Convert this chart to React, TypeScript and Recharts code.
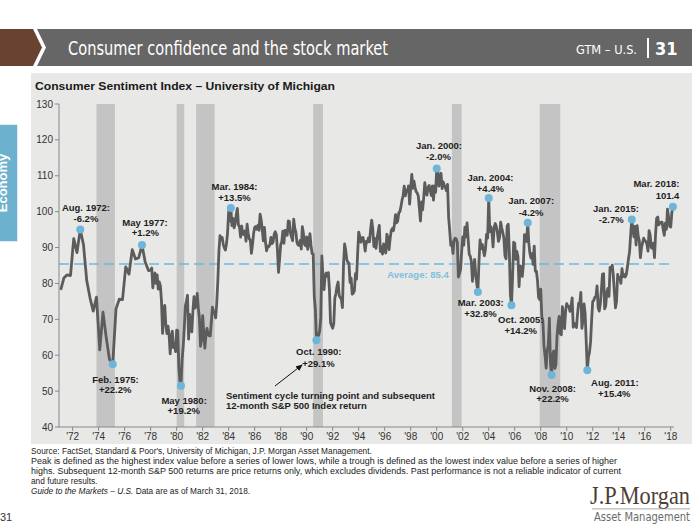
import React from "react";
import { ComposedChart, Line, XAxis, YAxis, ReferenceArea, ReferenceLine, ReferenceDot } from "recharts";

// Survey was quarterly (Feb, May, Aug, Nov) until the end of 1977
const quarterlyStartYear = 1971;
const quarterlyMonths = [2, 5, 8, 11];
const quarterlyValues = [
  78.2, 81.6, 82.4, 82.2,
  92.5, 88.6, 95.0, 90.8,
  80.8, 76.0, 72.3, 76.2,
  61.5, 72.0, 64.9, 58.8,
  57.5, 72.9, 75.6, 75.5,
  84.6, 82.6, 89.4, 86.8,
  87.2, 90.7, 85.9, 83.6,
];

// Monthly readings, Jan 1978 - Mar 2018
const monthlyStartYear = 1978;
const monthlyValues = [
  83.7, 84.3, 78.8, 81.6, 82.9, 80.0, 82.4, 78.4, 80.4, 79.3, 75.0, 66.1,
  72.1, 73.9, 68.4, 66.0, 68.1, 65.8, 60.4, 64.5, 66.7, 62.1, 63.3, 61.0,
  67.0, 66.9, 56.5, 52.7, 51.5, 58.7, 62.3, 67.3, 73.7, 75.0, 76.7, 64.5,
  71.4, 66.9, 66.5, 72.4, 76.3, 73.1, 74.1, 77.2, 73.1, 70.3, 62.5, 64.3,
  71.0, 66.5, 62.0, 65.5, 67.5, 65.7, 65.4, 65.4, 69.3, 73.4, 72.1, 71.9,
  70.4, 74.6, 80.8, 89.1, 93.3, 92.2, 92.8, 90.9, 89.9, 89.3, 91.1, 94.2,
  100.1, 97.4, 101.0, 96.1, 98.1, 95.5, 96.6, 99.1, 100.9, 96.3, 95.7, 92.9,
  96.0, 93.7, 93.7, 94.6, 91.8, 96.5, 94.0, 92.4, 92.1, 88.4, 90.9, 93.9,
  95.6, 95.9, 95.1, 96.2, 94.8, 99.3, 97.7, 94.9, 91.9, 95.6, 91.4, 89.1,
  90.4, 90.2, 90.8, 92.8, 91.1, 91.5, 93.7, 94.4, 93.6, 89.3, 83.1, 86.8,
  90.8, 91.6, 94.6, 91.2, 94.8, 94.7, 93.4, 97.4, 97.3, 94.1, 93.0, 91.9,
  97.9, 95.4, 94.3, 91.5, 90.7, 90.6, 92.0, 89.6, 95.8, 93.9, 90.9, 90.5,
  93.0, 89.5, 91.3, 93.9, 90.6, 88.3, 88.2, 76.4, 72.8, 64.2, 66.0, 65.5,
  66.8, 70.4, 87.7, 81.8, 78.3, 82.1, 82.9, 82.0, 83.0, 78.3, 69.1, 68.2,
  67.5, 68.8, 76.0, 77.2, 79.2, 80.4, 76.6, 76.1, 75.6, 73.3, 85.3, 91.0,
  89.3, 86.6, 85.9, 85.6, 80.3, 81.5, 77.0, 77.3, 77.9, 82.7, 81.2, 88.2,
  94.3, 93.2, 91.5, 92.6, 92.8, 91.2, 89.0, 91.7, 91.5, 92.7, 91.6, 95.1,
  97.6, 95.1, 90.3, 92.5, 89.8, 92.7, 94.4, 96.2, 88.9, 90.2, 88.2, 91.0,
  89.3, 88.5, 93.7, 92.7, 89.4, 92.4, 94.7, 95.3, 94.7, 96.5, 99.2, 96.9,
  97.4, 99.7, 100.0, 101.4, 103.2, 104.5, 107.1, 104.4, 106.0, 105.6, 107.2, 102.1,
  106.6, 110.4, 106.5, 108.5, 106.8, 105.6, 105.2, 104.4, 100.9, 97.4, 102.7, 100.5,
  103.9, 108.1, 105.7, 104.6, 106.8, 107.3, 106.0, 104.5, 107.2, 103.2, 107.2, 105.4,
  112.0, 111.3, 107.1, 109.2, 110.7, 106.4, 108.3, 107.3, 106.8, 105.8, 107.6, 98.4,
  94.7, 90.6, 91.5, 88.4, 92.0, 92.6, 92.4, 91.5, 81.8, 82.7, 83.9, 88.8,
  93.0, 90.7, 95.7, 93.0, 96.9, 92.4, 88.1, 87.6, 86.1, 80.6, 84.2, 86.7,
  82.4, 79.9, 77.6, 86.0, 92.1, 89.7, 90.9, 89.3, 87.7, 89.6, 93.7, 92.6,
  103.8, 94.4, 95.8, 94.2, 90.2, 95.6, 96.7, 95.9, 94.2, 91.7, 92.8, 97.1,
  95.5, 94.1, 92.6, 87.7, 86.9, 96.0, 96.5, 89.1, 76.9, 73.9, 81.6, 91.5,
  91.2, 86.7, 88.9, 87.4, 79.1, 84.9, 84.7, 82.0, 85.4, 93.6, 92.1, 91.7,
  96.9, 91.3, 88.4, 87.1, 88.3, 85.3, 90.4, 83.4, 83.4, 80.9, 76.1, 75.5,
  78.4, 70.8, 69.5, 62.6, 59.8, 56.4, 61.2, 63.0, 70.3, 57.6, 54.5, 60.1,
  61.2, 56.3, 57.3, 65.1, 68.7, 70.8, 66.0, 65.7, 73.5, 70.6, 67.4, 72.5,
  74.4, 73.6, 73.6, 72.2, 73.6, 76.0, 67.8, 68.9, 68.2, 67.7, 71.6, 74.5,
  74.2, 77.5, 67.5, 69.8, 74.3, 71.5, 63.7, 55.8, 59.5, 60.8, 63.7, 69.9,
  75.0, 75.3, 76.2, 76.4, 79.3, 73.2, 72.3, 74.3, 78.3, 82.6, 82.7, 72.9,
  73.8, 77.6, 78.6, 76.4, 84.5, 84.1, 85.1, 82.1, 77.5, 73.2, 75.1, 82.5,
  81.2, 81.6, 80.0, 84.1, 81.9, 82.5, 81.8, 82.5, 84.6, 86.9, 88.8, 93.6,
  97.8, 95.4, 93.0, 95.9, 90.7, 96.1, 93.1, 91.9, 87.2, 90.0, 91.3, 92.6,
  92.0, 91.7, 91.0, 89.0, 94.7, 93.5, 90.0, 89.8, 91.2, 87.2, 93.8, 98.2,
  98.5, 96.3, 96.9, 97.0, 97.1, 95.1, 93.4, 96.8, 95.1, 100.7, 98.5, 95.9,
  95.7, 99.7, 101.4,
];

// NBER recessions (start, end) as decimal years
const recessionStarts = [1973.83, 1980.0, 1981.5, 1990.5, 2001.17, 2007.92];
const recessionEnds = [1975.25, 1980.58, 1982.92, 1991.25, 2001.92, 2009.5];

// Peaks / troughs with the subsequent 12-month S&P 500 return
const turningDates = ["1972-08", "1975-02", "1977-05", "1980-05", "1984-03", "1990-10", "2000-01", "2003-03", "2004-01", "2005-10", "2007-01", "2008-11", "2011-08", "2015-01", "2018-03"];
const turningNames = ["Aug. 1972:", "Feb. 1975:", "May 1977:", "May 1980:", "Mar. 1984:", "Oct. 1990:", "Jan. 2000:", "Mar. 2003:", "Jan. 2004:", "Oct. 2005:", "Jan. 2007:", "Nov. 2008:", "Aug. 2011:", "Jan. 2015:", "Mar. 2018:"];
const turningReturns = ["-6.2%", "+22.2%", "+1.2%", "+19.2%", "+13.5%", "+29.1%", "-2.0%", "+32.8%", "+4.4%", "+14.2%", "-4.2%", "+22.2%", "+15.4%", "-2.7%", "101.4"];

const average = 85.4;
const yTicks = [40, 50, 60, 70, 80, 90, 100, 110, 120, 130];
const xTicks = [1972, 1974, 1976, 1978, 1980, 1982, 1984, 1986, 1988, 1990, 1992, 1994, 1996, 1998, 2000, 2002, 2004, 2006, 2008, 2010, 2012, 2014, 2016, 2018];

const series = [
  ...quarterlyValues.map((v, i) => ({ t: quarterlyStartYear + Math.floor(i / 4) + (quarterlyMonths[i % 4] - 1) / 12, v })),
  ...monthlyValues.map((v, i) => ({ t: monthlyStartYear + i / 12, v })),
];

const toYear = (d: string) => {
  const [y, m] = d.split("-").map(Number);
  return y + (m - 1) / 12;
};

const turningPoints = turningDates.map((d, i) => {
  const t = toYear(d);
  const hit = series.find((p) => Math.abs(p.t - t) < 0.01);
  return { t, v: hit ? hit.v : 0, name: turningNames[i], ret: turningReturns[i] };
});

// label offsets from the dot: [dx1, dy1, dx2, dy2, anchor]
const labelOffsets: Record<string, [number, number, number, number, string]> = {
  "Aug. 1972:": [5.7, -22, 5.7, -11, "middle"],
  "Feb. 1975:": [2.7, 15, 2.5, 25.5, "middle"],
  "May 1977:": [3, -22.6, 3.4, -12.3, "middle"],
  "May 1980:": [3.1, 14.4, 2.8, 24.7, "middle"],
  "Mar. 1984:": [3.7, -21.3, 3.7, -10.6, "middle"],
  "Oct. 1990:": [2.3, 11.6, 2, 23.3, "middle"],
  "Jan. 2000:": [2.3, -23.3, 1.8, -12.6, "middle"],
  "Mar. 2003:": [2.8, 10.3, 2.6, 21.3, "middle"],
  "Jan. 2004:": [1.7, -21, 1.7, -10, "middle"],
  "Oct. 2005:": [9.3, 14, 9.3, 25.4, "middle"],
  "Jan. 2007:": [3.4, -22, 3.4, -10, "middle"],
  "Nov. 2008:": [1, 13.7, 1, 24, "middle"],
  "Aug. 2011:": [27.5, 12.3, 27, 23, "middle"],
  "Jan. 2015:": [-15.8, -11, -20.5, 0, "middle"],
  "Mar. 2018:": [6.5, -22.7, 6.5, -11.4, "end"],
};

const SANS = "'Liberation Sans', Arial, Helvetica, sans-serif";
const NARROW = "'Liberation Sans Narrow', 'DejaVu Sans Condensed', 'Liberation Sans', sans-serif";
const DOT = "#6db6d9";
const LINE = "#5c5c5c";

const pointShape = (name: string, ret: string) => (props: any) => {
  const { cx, cy } = props;
  const o = labelOffsets[name];
  const ts = { fontFamily: SANS, fontSize: 9.5, fontWeight: 700, fill: "#1e1e1e" } as const;
  return (
    <g>
      <circle cx={cx} cy={cy} r={4} fill={DOT} />
      <text x={cx + o[0]} y={cy + o[1]} textAnchor={o[4] as any} dominantBaseline="central" style={ts}>{name}</text>
      <text x={cx + o[2]} y={cy + o[3]} textAnchor={o[4] as any} dominantBaseline="central" style={ts}>{ret}</text>
    </g>
  );
};

export default function App() {
  return (
    <div style={{ position: "absolute", left: 0, top: 0, width: 700, height: 525, background: "#fff", overflow: "hidden" }}>
      <svg width={700} height={525} style={{ position: "absolute", left: 0, top: 0 }}>
        {/* header */}
        <polygon points="0,29 33,29 42,47.5 33,66 0,66" fill="#6a4232" />
        <polygon points="37,29 692,29 692,66 37,66 46,47.5" fill="#666666" />
        <text x={68} y={54.5} fill="#fff" fontSize={19} fontFamily={NARROW} textLength={320} lengthAdjust="spacingAndGlyphs">Consumer confidence and the stock market</text>
        <text x={576} y={53.5} fill="#fff" fontSize={13} fontFamily={NARROW} textLength={61} lengthAdjust="spacingAndGlyphs">GTM – U.S.</text>
        <rect x={647} y={38} width={2} height={20} fill="#fff" />
        <text x={655} y={55} fill="#fff" fontSize={18} fontFamily={NARROW} fontWeight={700}>31</text>
        {/* panel */}
        <rect x={31} y={73} width={661} height={371} fill="#e8e8e6" />
        <text x={35} y={90} fill="#1a1a1a" fontSize={11} fontWeight={700} fontFamily={SANS} textLength={300} lengthAdjust="spacingAndGlyphs">Consumer Sentiment Index – University of Michigan</text>
        {/* side tab */}
        <rect x={-2} y={124} width={20} height={118} fill="#6cb1cd" stroke="#fff" strokeWidth={1.5} />
        <text transform="translate(6.5,183) rotate(-90)" textAnchor="middle" fill="#fff" fontSize={13} fontWeight={700} fontFamily={SANS}>Economy</text>
        {/* footnotes */}
        <g fontFamily={SANS} fontSize={8.3} fill="#222">
          <text x={31} y={454}>Source: FactSet, Standard &amp; Poor's, University of Michigan, J.P. Morgan Asset Management.</text>
          <text x={31} y={464} textLength={586} lengthAdjust="spacingAndGlyphs">Peak is defined as the highest index value before a series of lower lows, while a trough is defined as the lowest index value before a series of higher</text>
          <text x={31} y={474} textLength={590} lengthAdjust="spacingAndGlyphs">highs. Subsequent 12-month S&amp;P 500 returns are price returns only, which excludes dividends. Past performance is not a reliable indicator of current</text>
          <text x={31} y={483.5}>and future results.</text>
          <text x={31} y={493.5}><tspan fontStyle="italic">Guide to the Markets – U.S.</tspan> Data are as of March 31, 2018.</text>
        </g>
        <text x={0} y={521} fontSize={11} fontFamily={SANS} fill="#333">31</text>
        {/* logo */}
        <text transform="translate(590,504) scale(1,1.18)" fontSize={21.5} fontFamily="'Liberation Serif', 'DejaVu Serif', serif" fill="#4d3f38" textLength={100} lengthAdjust="spacingAndGlyphs">J.P.Morgan</text>
        <rect x={592} y={508.5} width={98} height={0.8} fill="#9a918c" />
        <text x={594} y={521} fontSize={11.5} fontFamily={NARROW} fill="#6b6b6b" textLength={96} lengthAdjust="spacingAndGlyphs">Asset Management</text>
      </svg>

      <div style={{ position: "absolute", left: 0, top: 0 }}>
        <ComposedChart width={700} height={525} data={series} margin={{ top: 104, right: 26, bottom: 0, left: 0 }}>
          {recessionStarts.map((s, i) => (
            <ReferenceArea key={i} x1={s} x2={recessionEnds[i]} y1={40} y2={130} fill="#c4c4c4" fillOpacity={1} stroke="none" ifOverflow="hidden" />
          ))}
          <XAxis
            type="number"
            dataKey="t"
            domain={[1970.95, 2018.25]}
            ticks={xTicks}
            allowDataOverflow
            tickFormatter={(y: number) => "'" + String(y).slice(2)}
            tick={{ fill: "#333", fontSize: 10, fontFamily: SANS }}
            stroke="#888"
            tickSize={4}
            height={98}
            interval={0}
          />
          <YAxis
            type="number"
            domain={[40, 130]}
            ticks={yTicks}
            allowDataOverflow
            tick={{ fill: "#333", fontSize: 10, fontFamily: SANS }}
            stroke="#888"
            tickSize={4}
            width={59}
            interval={0}
          />
          <ReferenceLine y={average} stroke="#6cb8dc" strokeWidth={1.6} strokeDasharray="10 5" />
          <Line type="linear" dataKey="v" stroke={LINE} strokeWidth={2.8} dot={false} strokeLinejoin="round" isAnimationActive={false} />
          {turningPoints.map((p) => (
            <ReferenceDot key={p.name} x={p.t} y={p.v} r={4} shape={pointShape(p.name, p.ret)} ifOverflow="visible" />
          ))}
        </ComposedChart>
      </div>

      <svg width={700} height={525} style={{ position: "absolute", left: 0, top: 0, pointerEvents: "none" }}>
        <defs>
          <marker id="arr" markerWidth={8} markerHeight={8} refX={6} refY={3} orient="auto">
            <path d="M0,0 L7,3 L0,6 Z" fill="#111" />
          </marker>
        </defs>
        <text x={418} y={274} textAnchor="middle" dominantBaseline="central" fontSize={9.5} fontWeight={700} fontFamily={SANS} fill="#7fbfdf">Average: 85.4</text>
        <line x1={275} y1={386} x2={302} y2={365} stroke="#111" strokeWidth={1} markerEnd="url(#arr)" />
        <g fontFamily={SANS} fontSize={9.5} fontWeight={700} fill="#1e1e1e">
          <text x={226} y={395} dominantBaseline="central">Sentiment cycle turning point and subsequent</text>
          <text x={226} y={405.7} dominantBaseline="central">12-month S&amp;P 500 Index return</text>
        </g>
      </svg>
    </div>
  );
}
